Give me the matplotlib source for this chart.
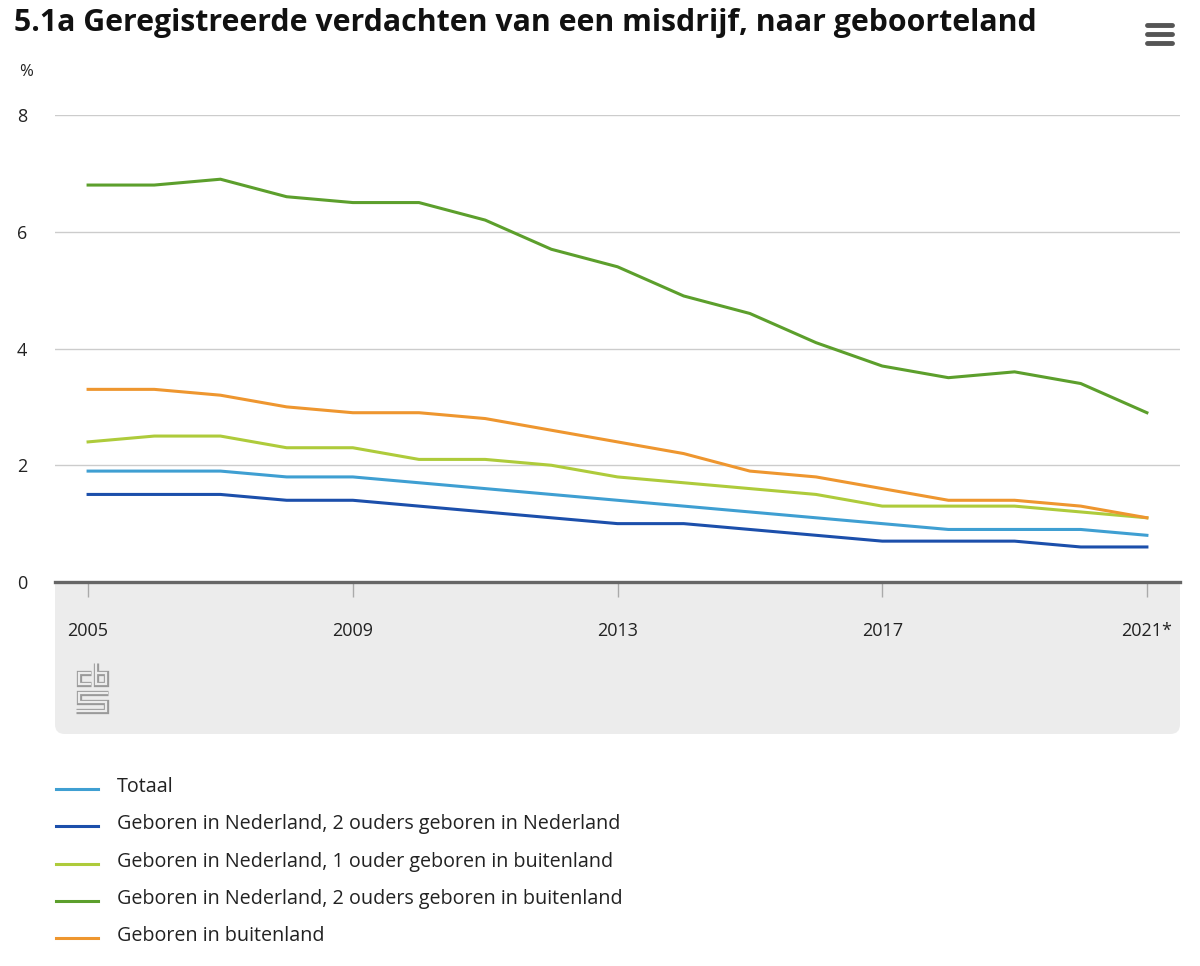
import matplotlib
matplotlib.use("Agg")
import matplotlib.pyplot as plt
from matplotlib.patches import FancyBboxPatch
from matplotlib.lines import Line2D

plt.rcParams['font.family'] = ['Open Sans', 'DejaVu Sans']

years = list(range(2005, 2022))
totaal = [1.9, 1.9, 1.9, 1.8, 1.8, 1.7, 1.6, 1.5, 1.4, 1.3, 1.2, 1.1, 1.0, 0.9, 0.9, 0.9, 0.8]
nl_2nl = [1.5, 1.5, 1.5, 1.4, 1.4, 1.3, 1.2, 1.1, 1.0, 1.0, 0.9, 0.8, 0.7, 0.7, 0.7, 0.6, 0.6]
nl_1bl = [2.4, 2.5, 2.5, 2.3, 2.3, 2.1, 2.1, 2.0, 1.8, 1.7, 1.6, 1.5, 1.3, 1.3, 1.3, 1.2, 1.1]
nl_2bl = [6.8, 6.8, 6.9, 6.6, 6.5, 6.5, 6.2, 5.7, 5.4, 4.9, 4.6, 4.1, 3.7, 3.5, 3.6, 3.4, 2.9]
buitenl = [3.3, 3.3, 3.2, 3.0, 2.9, 2.9, 2.8, 2.6, 2.4, 2.2, 1.9, 1.8, 1.6, 1.4, 1.4, 1.3, 1.1]

labels = ["Totaal",
          "Geboren in Nederland, 2 ouders geboren in Nederland",
          "Geboren in Nederland, 1 ouder geboren in buitenland",
          "Geboren in Nederland, 2 ouders geboren in buitenland",
          "Geboren in buitenland"]
colors = ["#3f9fd2", "#1c4fab", "#aecb3b", "#5c9f2c", "#ee962f"]
series = [totaal, nl_2nl, nl_1bl, nl_2bl, buitenl]

xticks = [2005, 2009, 2013, 2017, 2021]
xticklabels = ["2005", "2009", "2013", "2017", "2021*"]
yticks = [0, 2, 4, 6, 8]

W, H = 1200, 966
fig = plt.figure(figsize=(W / 100, H / 100), dpi=100)

def fx(px):
    return px / W

def fy(py):
    return 1 - py / H

# grey panel under the axis
panel_col = "#ececec"
panel = FancyBboxPatch((fx(55), fy(734)), fx(1180) - fx(55), fy(560) - fy(734),
                       boxstyle="round,pad=0,rounding_size=0.008",
                       transform=fig.transFigure, facecolor=panel_col,
                       edgecolor="none", zorder=-1, mutation_aspect=W / H)
fig.add_artist(panel)

ax = fig.add_axes([fx(55), fy(582), fx(1180) - fx(55), fy(115) - fy(582)])
ax.set_zorder(0)
for s, c in zip(series, colors):
    ax.plot(years, s, color=c, lw=2.2, solid_joinstyle="round")

ax.set_xlim(2004.5, 2021.5)
ax.set_ylim(0, 8)
ax.set_yticks(yticks)
ax.set_yticklabels([str(v) for v in yticks], fontsize=13, color="#222222")
ax.set_xticks(xticks)
ax.set_xticklabels(xticklabels, fontsize=13, color="#222222")
ax.tick_params(axis="y", length=0, pad=20)
ax.tick_params(axis="x", length=11, width=1, color="#aaaaaa", pad=18, direction="out")
ax.grid(axis="y", color="#cccccc", lw=1)
ax.set_axisbelow(True)
for side in ["left", "right", "top"]:
    ax.spines[side].set_visible(False)
ax.spines["bottom"].set_color("#666666")
ax.spines["bottom"].set_linewidth(2.4)

# title, unit
fig.text(fx(14), fy(23), "5.1a Geregistreerde verdachten van een misdrijf, naar geboorteland",
         fontsize=21.8, fontweight="bold", color="#111111", va="center", ha="left")
fig.text(fx(19), fy(72), "%", fontsize=12, color="#222222", va="center", ha="left")

# menu icon
for yy in [25, 34, 43]:
    fig.add_artist(Line2D([fx(1147), fx(1172)], [fy(yy), fy(yy)], color="#555555",
                          lw=3.5, solid_capstyle="round"))

# cbs logo (simplified, outlined strokes)
logo = [
    [(91, 672.5), (78.5, 672.5), (78.5, 683.5), (91, 683.5)],
    [(95.5, 663), (95.5, 683.5), (105.5, 683.5), (105.5, 672.5), (95.5, 672.5)],
    [(108, 692.5), (78.5, 692.5), (78.5, 701.5), (105.5, 701.5), (105.5, 710.5), (76, 710.5)],
]
for pts in logo:
    xs = [fx(p[0]) for p in pts]
    ys = [fy(p[1]) for p in pts]
    fig.add_artist(Line2D(xs, ys, color="#9a9a9a", lw=3.8, solid_joinstyle="miter",
                          solid_capstyle="butt"))
    fig.add_artist(Line2D(xs, ys, color=panel_col, lw=1.6, solid_joinstyle="miter",
                          solid_capstyle="butt"))

# legend
for i, (lab, c) in enumerate(zip(labels, colors)):
    yy = 789 + i * 37.3
    fig.add_artist(Line2D([fx(56), fx(98)], [fy(yy), fy(yy)], color=c, lw=2.2))
    fig.text(fx(117), fy(yy - 2), lab, fontsize=14.2, color="#222222", va="center", ha="left")

fig.savefig("out.png", dpi=100, facecolor="white")
